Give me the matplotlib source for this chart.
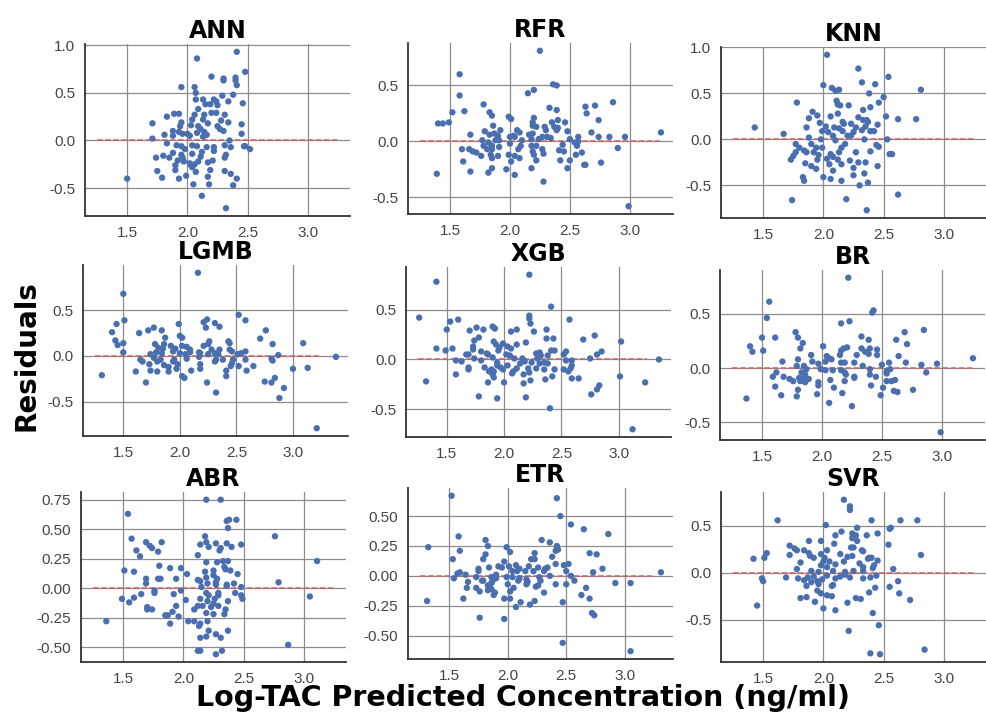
import matplotlib
matplotlib.use('Agg')
import matplotlib.pyplot as plt

# ---------------- data ----------------
titles = ['ANN', 'RFR', 'KNN', 'LGMB', 'XGB', 'BR', 'ABR', 'ETR', 'SVR']

ann_pts = [(2.41, 0.93), (2.08, 0.86), (2.48, 0.72), (2.20, 0.67), (2.30, 0.65), (2.30, 0.63), (2.40, 0.66), (2.40, 0.63),
           (2.41, 0.58), (1.95, 0.56), (2.06, 0.56), (2.07, 0.50), (2.07, 0.43), (2.13, 0.43), (2.22, 0.43), (2.24, 0.41),
           (2.29, 0.47), (2.38, 0.48), (2.34, 0.41), (2.46, 0.39), (2.15, 0.38), (2.19, 0.38), (2.09, 0.33), (2.25, 0.37),
           (1.83, 0.25), (1.89, 0.28), (1.93, 0.28), (2.06, 0.27), (2.14, 0.27), (2.20, 0.29), (2.24, 0.29), (2.31, 0.27),
           (1.71, 0.18), (1.95, 0.19), (2.04, 0.22), (2.13, 0.22), (2.28, 0.21), (2.34, 0.19), (2.45, 0.17), (1.94, 0.15),
           (2.03, 0.16), (2.09, 0.15), (2.17, 0.18), (2.25, 0.15), (2.11, 0.12), (2.14, 0.09), (1.88, 0.10), (1.93, 0.09),
           (2.08, 0.08), (2.27, 0.12), (2.30, 0.10), (1.81, 0.06), (1.88, 0.05), (2.00, 0.07), (2.02, 0.05), (2.13, 0.04),
           (2.16, 0.06), (2.45, 0.07), (1.71, 0.02), (1.96, 0.07), (2.35, 0.00), (1.83, -0.03), (1.91, -0.05), (1.95, -0.06),
           (2.04, -0.05), (2.08, -0.06), (2.16, -0.07), (2.22, -0.07), (2.31, -0.05), (2.36, -0.07), (2.47, -0.06), (2.48, -0.06),
           (2.52, -0.09), (1.98, -0.09), (2.12, -0.12), (2.22, -0.11), (1.88, -0.13), (1.95, -0.15), (2.04, -0.14), (1.80, -0.16),
           (1.74, -0.18), (1.85, -0.18), (1.96, -0.18), (2.11, -0.17), (2.32, -0.15), (2.31, -0.18), (1.92, -0.21), (1.97, -0.22),
           (2.09, -0.22), (2.17, -0.23), (2.21, -0.21), (2.02, -0.24), (2.06, -0.25), (1.90, -0.26), (2.03, -0.26), (2.04, -0.28),
           (1.90, -0.31), (1.75, -0.32), (2.19, -0.31), (2.07, -0.33), (2.31, -0.32), (2.36, -0.35), (1.79, -0.39), (1.99, -0.37),
           (1.93, -0.40), (2.17, -0.38), (2.41, -0.40), (1.50, -0.40), (2.05, -0.46), (2.18, -0.46), (2.38, -0.47), (2.12, -0.58),
           (2.32, -0.71)]

rfr_pts = [(2.25, 0.81), (1.58, 0.60), (1.58, 0.41), (2.15, 0.43), (2.20, 0.46), (2.36, 0.51), (2.39, 0.50), (1.52, 0.26),
           (1.62, 0.27), (1.78, 0.33), (2.33, 0.30), (2.39, 0.28), (2.63, 0.31), (2.71, 0.32), (2.86, 0.35), (1.40, 0.16),
           (1.44, 0.16), (1.49, 0.17), (1.83, 0.26), (1.85, 0.23), (1.99, 0.22), (2.01, 0.20), (2.20, 0.21), (2.19, 0.17),
           (2.19, 0.14), (2.35, 0.17), (2.40, 0.19), (2.46, 0.17), (2.64, 0.25), (2.74, 0.19), (2.22, 0.13), (2.29, 0.13),
           (2.30, 0.10), (2.37, 0.13), (2.40, 0.12), (2.39, 0.10), (1.79, 0.09), (1.86, 0.14), (1.92, 0.10), (1.67, 0.06),
           (1.83, 0.06), (1.87, 0.07), (1.90, 0.05), (2.06, 0.10), (2.08, 0.08), (2.03, 0.05), (2.04, 0.04), (2.00, 0.04),
           (2.16, 0.06), (2.19, 0.07), (2.68, 0.08), (2.48, 0.09), (2.27, 0.04), (2.31, 0.04), (2.34, 0.03), (2.50, 0.02),
           (2.57, 0.04), (2.74, 0.04), (2.83, 0.04), (2.96, 0.04), (3.26, 0.08), (1.77, 0.01), (1.82, -0.01), (1.88, 0.01),
           (1.91, 0.01), (2.00, -0.02), (2.10, 0.01), (2.18, 0.02), (2.24, 0.02), (2.54, -0.01), (2.57, 0.00), (1.78, -0.04),
           (1.85, -0.04), (1.91, -0.05), (2.09, -0.04), (2.18, -0.04), (2.22, -0.04), (2.44, -0.03), (2.56, -0.04), (1.60, -0.07),
           (1.66, -0.07), (1.69, -0.09), (1.81, -0.07), (1.85, -0.07), (2.07, -0.07), (2.19, -0.09), (2.27, -0.07), (2.41, -0.08),
           (2.45, -0.09), (2.90, -0.06), (1.72, -0.10), (1.76, -0.13), (1.84, -0.12), (1.90, -0.13), (1.99, -0.12), (2.20, -0.12),
           (2.28, -0.11), (2.55, -0.12), (2.60, -0.10), (1.85, -0.15), (2.01, -0.18), (2.04, -0.13), (2.08, -0.15), (2.22, -0.17),
           (2.42, -0.17), (2.50, -0.17), (1.61, -0.18), (2.76, -0.19), (2.62, -0.21), (2.63, -0.21), (2.18, -0.24), (2.48, -0.24),
           (1.67, -0.27), (1.82, -0.28), (1.85, -0.24), (1.97, -0.25), (2.04, -0.30), (1.39, -0.29), (2.28, -0.36), (2.99, -0.58)]

knn_pts = [(2.03, 0.92), (2.29, 0.77), (2.54, 0.68), (2.32, 0.62), (2.43, 0.60), (2.00, 0.59), (2.07, 0.56), (2.10, 0.53),
           (2.13, 0.54), (2.81, 0.54), (2.38, 0.50), (2.50, 0.46), (1.78, 0.40), (2.11, 0.42), (2.12, 0.38), (2.14, 0.37),
           (2.21, 0.37), (2.46, 0.40), (2.39, 0.35), (1.91, 0.30), (1.95, 0.26), (1.88, 0.23), (2.06, 0.25), (2.12, 0.28),
           (2.33, 0.32), (2.29, 0.24), (2.52, 0.25), (2.62, 0.22), (2.77, 0.22), (1.97, 0.18), (2.16, 0.19), (2.17, 0.17),
           (2.23, 0.17), (2.33, 0.21), (2.36, 0.21), (2.37, 0.19), (2.45, 0.16), (1.86, 0.13), (2.02, 0.14), (2.09, 0.13),
           (2.13, 0.12), (2.27, 0.13), (2.35, 0.14), (1.43, 0.13), (1.67, 0.06), (1.99, 0.09), (2.04, 0.08), (2.16, 0.09),
           (2.25, 0.08), (2.32, 0.10), (2.39, 0.09), (2.42, 0.09), (1.88, 0.02), (1.98, 0.00), (2.08, 0.04), (2.10, -0.01),
           (2.20, 0.04), (2.23, 0.04), (2.34, 0.00), (2.53, 0.00), (1.77, -0.05), (1.80, -0.09), (1.84, -0.12), (1.90, -0.05),
           (1.94, -0.09), (1.99, -0.09), (2.15, -0.09), (2.18, -0.05), (2.44, -0.06), (2.46, -0.08), (1.86, -0.14), (1.92, -0.14),
           (1.96, -0.17), (2.06, -0.16), (2.13, -0.14), (2.27, -0.14), (2.39, -0.13), (2.55, -0.16), (2.57, -0.16), (1.77, -0.14),
           (1.75, -0.18), (1.73, -0.22), (1.95, -0.22), (2.03, -0.21), (2.08, -0.19), (2.12, -0.22), (2.22, -0.23), (2.29, -0.25),
           (2.35, -0.25), (1.85, -0.26), (2.05, -0.27), (2.15, -0.27), (1.90, -0.29), (1.94, -0.32), (2.08, -0.34), (2.25, -0.31),
           (2.34, -0.37), (2.45, -0.29), (2.00, -0.41), (2.06, -0.43), (2.15, -0.45), (2.25, -0.39), (1.83, -0.41), (1.84, -0.45),
           (2.30, -0.50), (2.37, -0.47), (2.62, -0.60), (2.19, -0.65), (1.74, -0.66), (2.36, -0.77)]

lgmb_pts = [(2.16, 0.91), (1.50, 0.68), (2.52, 0.45), (1.51, 0.39), (2.21, 0.37), (2.24, 0.40), (2.58, 0.39), (1.44, 0.35),
            (1.99, 0.35), (2.31, 0.36), (2.35, 0.32), (2.23, 0.31), (1.40, 0.26), (1.64, 0.25), (1.72, 0.28), (1.77, 0.31),
            (1.84, 0.28), (2.76, 0.28), (2.00, 0.22), (2.02, 0.20), (1.87, 0.20), (2.71, 0.19), (1.43, 0.17), (1.50, 0.14),
            (1.45, 0.12), (2.26, 0.16), (2.25, 0.13), (2.35, 0.07), (2.43, 0.16), (2.44, 0.14), (2.82, 0.13), (3.09, 0.14),
            (1.78, 0.13), (1.86, 0.13), (1.81, 0.09), (1.85, 0.08), (1.92, 0.11), (1.96, 0.08), (2.02, 0.11), (2.06, 0.10),
            (2.09, 0.07), (2.09, 0.04), (2.21, 0.11), (2.28, 0.07), (2.44, 0.07), (2.46, 0.05), (2.58, 0.05), (1.50, 0.04),
            (1.74, 0.02), (1.79, 0.04), (1.84, 0.03), (1.94, 0.05), (2.00, 0.03), (2.05, 0.02), (2.17, 0.04), (2.18, 0.03),
            (2.25, 0.02), (2.31, 0.03), (2.34, 0.02), (2.51, 0.02), (2.54, 0.03), (2.87, 0.01), (3.38, -0.01), (1.65, -0.04),
            (1.77, -0.02), (1.83, -0.04), (1.95, -0.04), (2.06, -0.03), (2.17, -0.01), (2.32, -0.04), (2.38, -0.04), (2.47, -0.04),
            (2.58, -0.04), (2.81, -0.03), (1.67, -0.06), (1.80, -0.06), (1.94, -0.06), (2.31, -0.06), (2.46, -0.08), (2.82, -0.05),
            (1.73, -0.09), (1.86, -0.10), (1.98, -0.09), (2.18, -0.09), (2.45, -0.11), (2.52, -0.11), (2.65, -0.11), (3.13, -0.13),
            (3.00, -0.14), (1.90, -0.12), (1.97, -0.14), (2.10, -0.16), (2.18, -0.14), (2.41, -0.16), (2.59, -0.16), (1.61, -0.17),
            (1.74, -0.16), (1.80, -0.17), (1.90, -0.17), (2.41, -0.22), (2.02, -0.22), (2.04, -0.24), (1.31, -0.21), (1.70, -0.29),
            (2.24, -0.29), (2.75, -0.28), (2.81, -0.29), (2.84, -0.24), (2.92, -0.35), (2.32, -0.40), (2.88, -0.46), (3.21, -0.79)]

xgb_pts = [(2.22, 0.85), (1.41, 0.78), (2.41, 0.53), (1.26, 0.42), (2.22, 0.44), (2.22, 0.41), (2.23, 0.36), (2.57, 0.40),
           (1.53, 0.38), (1.60, 0.40), (1.50, 0.30), (1.70, 0.29), (1.76, 0.32), (1.82, 0.30), (1.90, 0.33), (1.92, 0.31),
           (2.06, 0.28), (2.11, 0.30), (2.26, 0.28), (2.37, 0.30), (1.78, 0.22), (1.74, 0.19), (2.37, 0.21), (2.43, 0.21),
           (2.79, 0.24), (2.69, 0.20), (3.02, 0.18), (1.91, 0.18), (1.93, 0.15), (1.99, 0.16), (2.03, 0.13), (1.96, 0.12),
           (2.06, 0.11), (2.11, 0.15), (2.19, 0.17), (1.41, 0.11), (1.49, 0.09), (1.55, 0.11), (1.73, 0.13), (1.73, 0.10),
           (1.80, 0.08), (1.95, 0.09), (2.41, 0.09), (2.44, 0.09), (2.54, 0.08), (2.85, 0.08), (1.67, 0.05), (1.69, 0.05),
           (1.85, 0.06), (1.86, 0.05), (2.02, 0.05), (2.05, 0.04), (2.28, 0.06), (2.31, 0.07), (2.32, 0.04), (2.38, 0.04),
           (2.52, 0.05), (2.81, 0.05), (1.74, 0.01), (1.90, 0.02), (2.09, 0.01), (2.16, 0.01), (2.29, 0.01), (2.75, 0.01),
           (3.35, 0.00), (1.58, -0.01), (1.63, -0.02), (1.80, -0.01), (1.94, -0.03), (2.14, -0.04), (2.18, -0.02), (2.24, -0.03),
           (2.31, -0.04), (2.35, -0.03), (2.38, -0.04), (2.54, -0.01), (2.59, -0.01), (1.69, -0.08), (1.83, -0.08), (1.69, -0.10),
           (1.94, -0.06), (1.97, -0.08), (2.03, -0.06), (2.11, -0.09), (2.21, -0.09), (2.28, -0.09), (2.35, -0.10), (2.59, -0.06),
           (2.58, -0.09), (1.89, -0.10), (1.91, -0.12), (1.87, -0.12), (1.99, -0.10), (2.08, -0.12), (2.22, -0.13), (2.44, -0.10),
           (2.52, -0.10), (2.56, -0.12), (1.58, -0.15), (1.90, -0.15), (1.91, -0.18), (2.07, -0.14), (2.17, -0.15), (2.42, -0.17),
           (2.59, -0.19), (2.65, -0.19), (2.36, -0.20), (3.01, -0.17), (1.32, -0.22), (1.86, -0.23), (2.00, -0.23), (2.17, -0.24),
           (2.23, -0.21), (3.23, -0.23), (2.83, -0.26), (2.81, -0.30), (2.76, -0.35), (1.78, -0.37), (1.94, -0.39), (2.19, -0.38),
           (2.40, -0.49), (3.12, -0.70)]

br_pts = [(2.22, 0.83), (1.56, 0.61), (1.54, 0.46), (2.43, 0.53), (2.42, 0.51), (2.16, 0.41), (2.23, 0.43), (1.50, 0.28),
          (1.61, 0.28), (1.78, 0.33), (1.80, 0.28), (1.84, 0.23), (2.33, 0.29), (2.39, 0.26), (2.62, 0.26), (2.69, 0.33),
          (2.71, 0.22), (2.85, 0.35), (1.40, 0.20), (1.42, 0.15), (1.51, 0.16), (2.01, 0.20), (1.82, 0.18), (2.16, 0.16),
          (2.18, 0.18), (2.21, 0.19), (2.33, 0.18), (2.36, 0.15), (2.40, 0.18), (2.46, 0.17), (1.91, 0.12), (2.15, 0.12),
          (2.29, 0.12), (2.39, 0.13), (2.46, 0.12), (2.64, 0.11), (2.04, 0.11), (2.06, 0.09), (2.08, 0.08), (1.92, 0.06),
          (1.67, 0.06), (1.80, 0.08), (2.03, 0.06), (2.16, 0.05), (2.19, 0.05), (2.27, 0.05), (2.70, 0.05), (2.56, 0.05),
          (1.97, 0.04), (1.79, 0.02), (1.85, 0.02), (2.34, 0.02), (2.50, 0.03), (2.83, 0.03), (2.96, 0.04), (3.26, 0.09),
          (1.87, -0.01), (1.99, -0.01), (2.03, -0.02), (2.09, -0.02), (2.16, -0.02), (2.40, -0.01), (2.54, -0.03), (2.57, -0.01),
          (1.62, -0.04), (1.83, -0.04), (2.19, -0.04), (2.54, -0.05), (2.87, -0.04), (1.59, -0.08), (1.68, -0.08), (1.86, -0.06),
          (2.20, -0.06), (2.27, -0.08), (2.40, -0.06), (2.45, -0.08), (1.73, -0.10), (1.81, -0.09), (1.85, -0.09), (1.89, -0.10),
          (1.76, -0.12), (1.82, -0.12), (1.86, -0.13), (2.07, -0.11), (2.19, -0.12), (2.27, -0.09), (2.54, -0.12), (2.58, -0.12),
          (2.61, -0.11), (1.97, -0.13), (1.97, -0.16), (2.41, -0.16), (1.61, -0.17), (2.10, -0.18), (2.51, -0.18), (1.80, -0.20),
          (2.76, -0.20), (2.60, -0.21), (2.63, -0.22), (2.17, -0.23), (1.96, -0.24), (2.49, -0.25), (1.66, -0.25), (1.79, -0.26),
          (1.37, -0.28), (2.06, -0.32), (2.25, -0.35), (2.99, -0.59)]

abr_pts = [(2.19, 0.75), (2.31, 0.75), (1.54, 0.63), (2.44, 0.58), (2.36, 0.57), (2.38, 0.58), (2.37, 0.51), (1.57, 0.42),
           (2.18, 0.44), (2.76, 0.44), (1.69, 0.39), (1.82, 0.39), (2.14, 0.37), (2.19, 0.39), (2.27, 0.38), (2.36, 0.38),
           (2.48, 0.37), (1.72, 0.36), (1.74, 0.34), (2.21, 0.35), (2.31, 0.34), (2.40, 0.35), (1.61, 0.32), (1.79, 0.31),
           (2.30, 0.32), (1.64, 0.27), (2.12, 0.28), (2.19, 0.22), (2.28, 0.22), (2.33, 0.23), (2.37, 0.23), (3.11, 0.23),
           (1.80, 0.19), (1.89, 0.17), (1.98, 0.17), (2.34, 0.18), (2.35, 0.16), (2.39, 0.15), (1.51, 0.15), (1.59, 0.14),
           (2.18, 0.14), (2.25, 0.15), (2.03, 0.12), (2.25, 0.11), (2.45, 0.12), (1.69, 0.08), (1.79, 0.08), (1.81, 0.08),
           (1.94, 0.08), (2.12, 0.07), (2.14, 0.06), (2.28, 0.08), (2.19, 0.09), (2.27, 0.05), (2.79, 0.05), (1.69, 0.04),
           (2.20, 0.04), (2.27, 0.03), (2.36, 0.03), (2.42, 0.04), (2.15, 0.01), (2.36, 0.02), (2.48, 0.01), (1.76, -0.02),
           (1.98, -0.02), (1.76, -0.04), (2.19, -0.04), (2.29, -0.04), (2.43, -0.04), (1.65, -0.05), (1.92, -0.05), (2.21, -0.06),
           (2.29, -0.06), (2.48, -0.06), (3.05, -0.07), (1.59, -0.08), (2.14, -0.09), (2.26, -0.09), (2.49, -0.09), (1.49, -0.09),
           (1.55, -0.12), (2.02, -0.10), (2.20, -0.11), (2.37, -0.11), (2.25, -0.13), (1.94, -0.15), (1.70, -0.16), (2.12, -0.15),
           (2.16, -0.15), (2.23, -0.16), (2.29, -0.15), (1.70, -0.18), (1.74, -0.18), (2.09, -0.18), (2.35, -0.18), (1.91, -0.20),
           (2.19, -0.21), (1.85, -0.23), (1.87, -0.23), (1.96, -0.24), (2.34, -0.22), (2.25, -0.22), (1.36, -0.28), (2.04, -0.28),
           (2.09, -0.28), (2.20, -0.28), (1.89, -0.30), (2.13, -0.32), (2.14, -0.30), (2.21, -0.36), (2.27, -0.39), (2.37, -0.36),
           (2.31, -0.42), (2.14, -0.42), (2.19, -0.41), (2.87, -0.48), (2.12, -0.53), (2.14, -0.53), (2.32, -0.53), (2.27, -0.56)]

etr_pts = [(1.52, 0.67), (2.42, 0.65), (2.45, 0.50), (2.54, 0.43), (2.65, 0.39), (2.86, 0.35), (1.58, 0.33), (1.32, 0.24),
           (1.81, 0.30), (2.29, 0.30), (2.36, 0.28), (1.83, 0.25), (1.99, 0.24), (2.42, 0.25), (2.43, 0.22), (1.59, 0.21),
           (2.02, 0.20), (2.41, 0.21), (2.70, 0.19), (2.76, 0.18), (1.81, 0.18), (2.23, 0.19), (2.38, 0.16), (1.53, 0.14),
           (1.79, 0.14), (1.97, 0.12), (2.20, 0.14), (2.23, 0.14), (2.41, 0.10), (2.48, 0.09), (2.52, 0.10), (2.07, 0.09),
           (1.92, 0.08), (1.95, 0.07), (2.01, 0.08), (1.84, 0.07), (1.75, 0.06), (2.10, 0.06), (2.18, 0.08), (2.26, 0.07),
           (2.34, 0.07), (2.32, 0.06), (2.81, 0.06), (1.59, 0.03), (1.57, 0.02), (1.75, 0.04), (2.04, 0.04), (2.08, 0.04),
           (2.15, 0.04), (2.22, 0.04), (2.31, 0.04), (2.50, 0.04), (2.73, 0.03), (3.31, 0.03), (1.64, 0.01), (1.90, 0.01),
           (1.99, -0.01), (2.36, 0.00), (2.54, 0.00), (1.54, -0.02), (1.73, -0.01), (1.86, -0.01), (2.04, -0.01), (2.10, -0.02),
           (2.16, -0.03), (2.27, -0.01), (1.66, -0.05), (1.78, -0.04), (1.79, -0.04), (1.87, -0.04), (1.90, -0.02), (2.09, -0.04),
           (2.17, -0.05), (2.28, -0.04), (2.57, -0.04), (1.86, -0.06), (1.83, -0.08), (2.00, -0.07), (2.16, -0.07), (2.41, -0.07),
           (2.50, -0.07), (2.92, -0.06), (3.05, -0.06), (1.65, -0.10), (1.73, -0.10), (1.86, -0.11), (2.05, -0.10), (2.24, -0.09),
           (2.26, -0.08), (2.67, -0.10), (1.83, -0.12), (1.76, -0.13), (1.89, -0.14), (2.02, -0.13), (2.31, -0.14), (2.63, -0.16),
           (1.88, -0.16), (1.62, -0.19), (1.97, -0.19), (2.02, -0.19), (2.70, -0.19), (1.31, -0.21), (2.23, -0.21), (2.47, -0.22),
           (2.11, -0.22), (2.19, -0.24), (2.07, -0.26), (2.72, -0.31), (2.74, -0.33), (1.76, -0.35), (1.97, -0.36), (2.47, -0.56),
           (3.05, -0.63)]

svr_pts = [(2.17, 0.78), (2.22, 0.71), (2.22, 0.67), (1.62, 0.56), (2.40, 0.56), (2.64, 0.56), (2.78, 0.56), (2.02, 0.51),
           (2.56, 0.48), (2.55, 0.47), (2.28, 0.48), (2.15, 0.44), (2.10, 0.40), (2.24, 0.42), (2.27, 0.40), (2.36, 0.40),
           (2.45, 0.42), (2.24, 0.37), (2.28, 0.34), (1.98, 0.34), (1.88, 0.34), (2.09, 0.31), (1.72, 0.29), (2.54, 0.30),
           (2.23, 0.27), (2.25, 0.27), (1.76, 0.26), (1.78, 0.24), (1.84, 0.24), (1.88, 0.21), (2.03, 0.24), (2.32, 0.24),
           (2.33, 0.23), (1.53, 0.21), (1.51, 0.16), (1.89, 0.18), (1.92, 0.16), (1.98, 0.20), (2.01, 0.16), (2.05, 0.12),
           (2.14, 0.20), (2.20, 0.17), (2.24, 0.18), (2.38, 0.16), (2.40, 0.16), (2.81, 0.19), (1.42, 0.15), (1.72, 0.19),
           (1.81, 0.11), (2.00, 0.12), (2.17, 0.12), (2.30, 0.10), (2.45, 0.13), (2.37, 0.15), (2.42, 0.08), (1.98, 0.08),
           (2.03, 0.06), (2.10, 0.09), (2.33, 0.06), (2.58, 0.04), (1.78, 0.04), (2.41, 0.05), (1.96, 0.01), (1.90, 0.02),
           (2.08, 0.02), (2.18, 0.01), (2.25, 0.02), (2.33, 0.02), (2.03, -0.03), (2.14, -0.04), (2.18, -0.02), (2.44, -0.03),
           (1.69, -0.05), (1.79, -0.06), (1.87, -0.05), (1.92, -0.04), (2.10, -0.06), (2.22, -0.05), (2.39, -0.05), (1.49, -0.06),
           (1.50, -0.09), (1.84, -0.08), (1.90, -0.10), (1.95, -0.09), (1.99, -0.07), (2.33, -0.06), (2.62, -0.09), (1.86, -0.14),
           (1.96, -0.12), (2.08, -0.13), (2.07, -0.14), (2.55, -0.15), (2.43, -0.16), (1.95, -0.19), (1.98, -0.22), (2.03, -0.24),
           (2.07, -0.25), (1.86, -0.26), (1.81, -0.27), (2.63, -0.22), (2.38, -0.21), (2.27, -0.27), (2.31, -0.28), (2.72, -0.29),
           (2.20, -0.32), (1.93, -0.31), (1.45, -0.35), (2.00, -0.38), (2.10, -0.40), (2.41, -0.43), (2.46, -0.56), (2.21, -0.62),
           (2.84, -0.82), (2.39, -0.86), (2.47, -0.87)]

all_pts = [ann_pts, rfr_pts, knn_pts, lgmb_pts, xgb_pts, br_pts, abr_pts, etr_pts, svr_pts]

x_ticks = [1.5, 2.0, 2.5, 3.0]
y_ticks = [[-0.5, 0.0, 0.5, 1.0], [-0.5, 0.0, 0.5], [-0.5, 0.0, 0.5, 1.0],
           [-0.5, 0.0, 0.5], [-0.5, 0.0, 0.5], [-0.5, 0.0, 0.5],
           [-0.5, -0.25, 0.0, 0.25, 0.5, 0.75], [-0.5, -0.25, 0.0, 0.25, 0.5], [-0.5, 0.0, 0.5]]
y_fmt = ['%.1f', '%.1f', '%.1f', '%.1f', '%.1f', '%.1f', '%.2f', '%.2f', '%.1f']
line_x = (1.25, 3.25)  # extent of the zero line

# panel boxes in pixels: left, top, bottom (width is shared)
W, H = 987, 718
boxes = [(85, 44, 216), (408, 43, 214), (721, 47, 218),
         (83, 265, 436), (406, 267, 437), (720, 270, 440),
         (81, 492, 662), (408, 488, 659), (721, 492, 662)]
pw = 265

fig = plt.figure(figsize=(W / 100, H / 100), dpi=100)

for i, (pts, ttl) in enumerate(zip(all_pts, titles)):
    l, t, b = boxes[i]
    ax = fig.add_axes([l / W, 1 - b / H, pw / W, (b - t) / H])
    xs = [p[0] for p in pts]
    ys = [p[1] for p in pts]
    ax.scatter(xs, ys, s=21, color='#4a6fb0', edgecolors='none', zorder=3)
    ax.hlines(0, line_x[0], line_x[1], colors='#d0605f', linestyles='--', linewidth=1.1, zorder=2)
    ax.set_xticks(x_ticks)
    ax.set_yticks(y_ticks[i])
    ax.yaxis.set_major_formatter(matplotlib.ticker.FormatStrFormatter(y_fmt[i]))
    ax.grid(True, color='#8c8c8c', linewidth=0.9)
    ax.set_axisbelow(True)
    for s in ['top', 'right']:
        ax.spines[s].set_visible(False)
    for s in ['left', 'bottom']:
        ax.spines[s].set_color('#333333')
        ax.spines[s].set_linewidth(1.3)
    ax.tick_params(length=0, pad=7, labelsize=11, labelcolor='#444444')
    for lab in ax.get_xticklabels() + ax.get_yticklabels():
        lab.set_fontfamily('Liberation Sans')
    ax.set_title(ttl, fontsize=17, fontweight='bold', pad=4)

fig.text(523 / W, 1 - 698 / H, 'Log-TAC Predicted Concentration (ng/ml)',
         ha='center', va='center', fontsize=20.5, fontweight='bold')
fig.text(27 / W, 1 - 356 / H, 'Residuals', rotation=90,
         ha='center', va='center', fontsize=20, fontweight='bold')

fig.savefig('out.png', dpi=100)
